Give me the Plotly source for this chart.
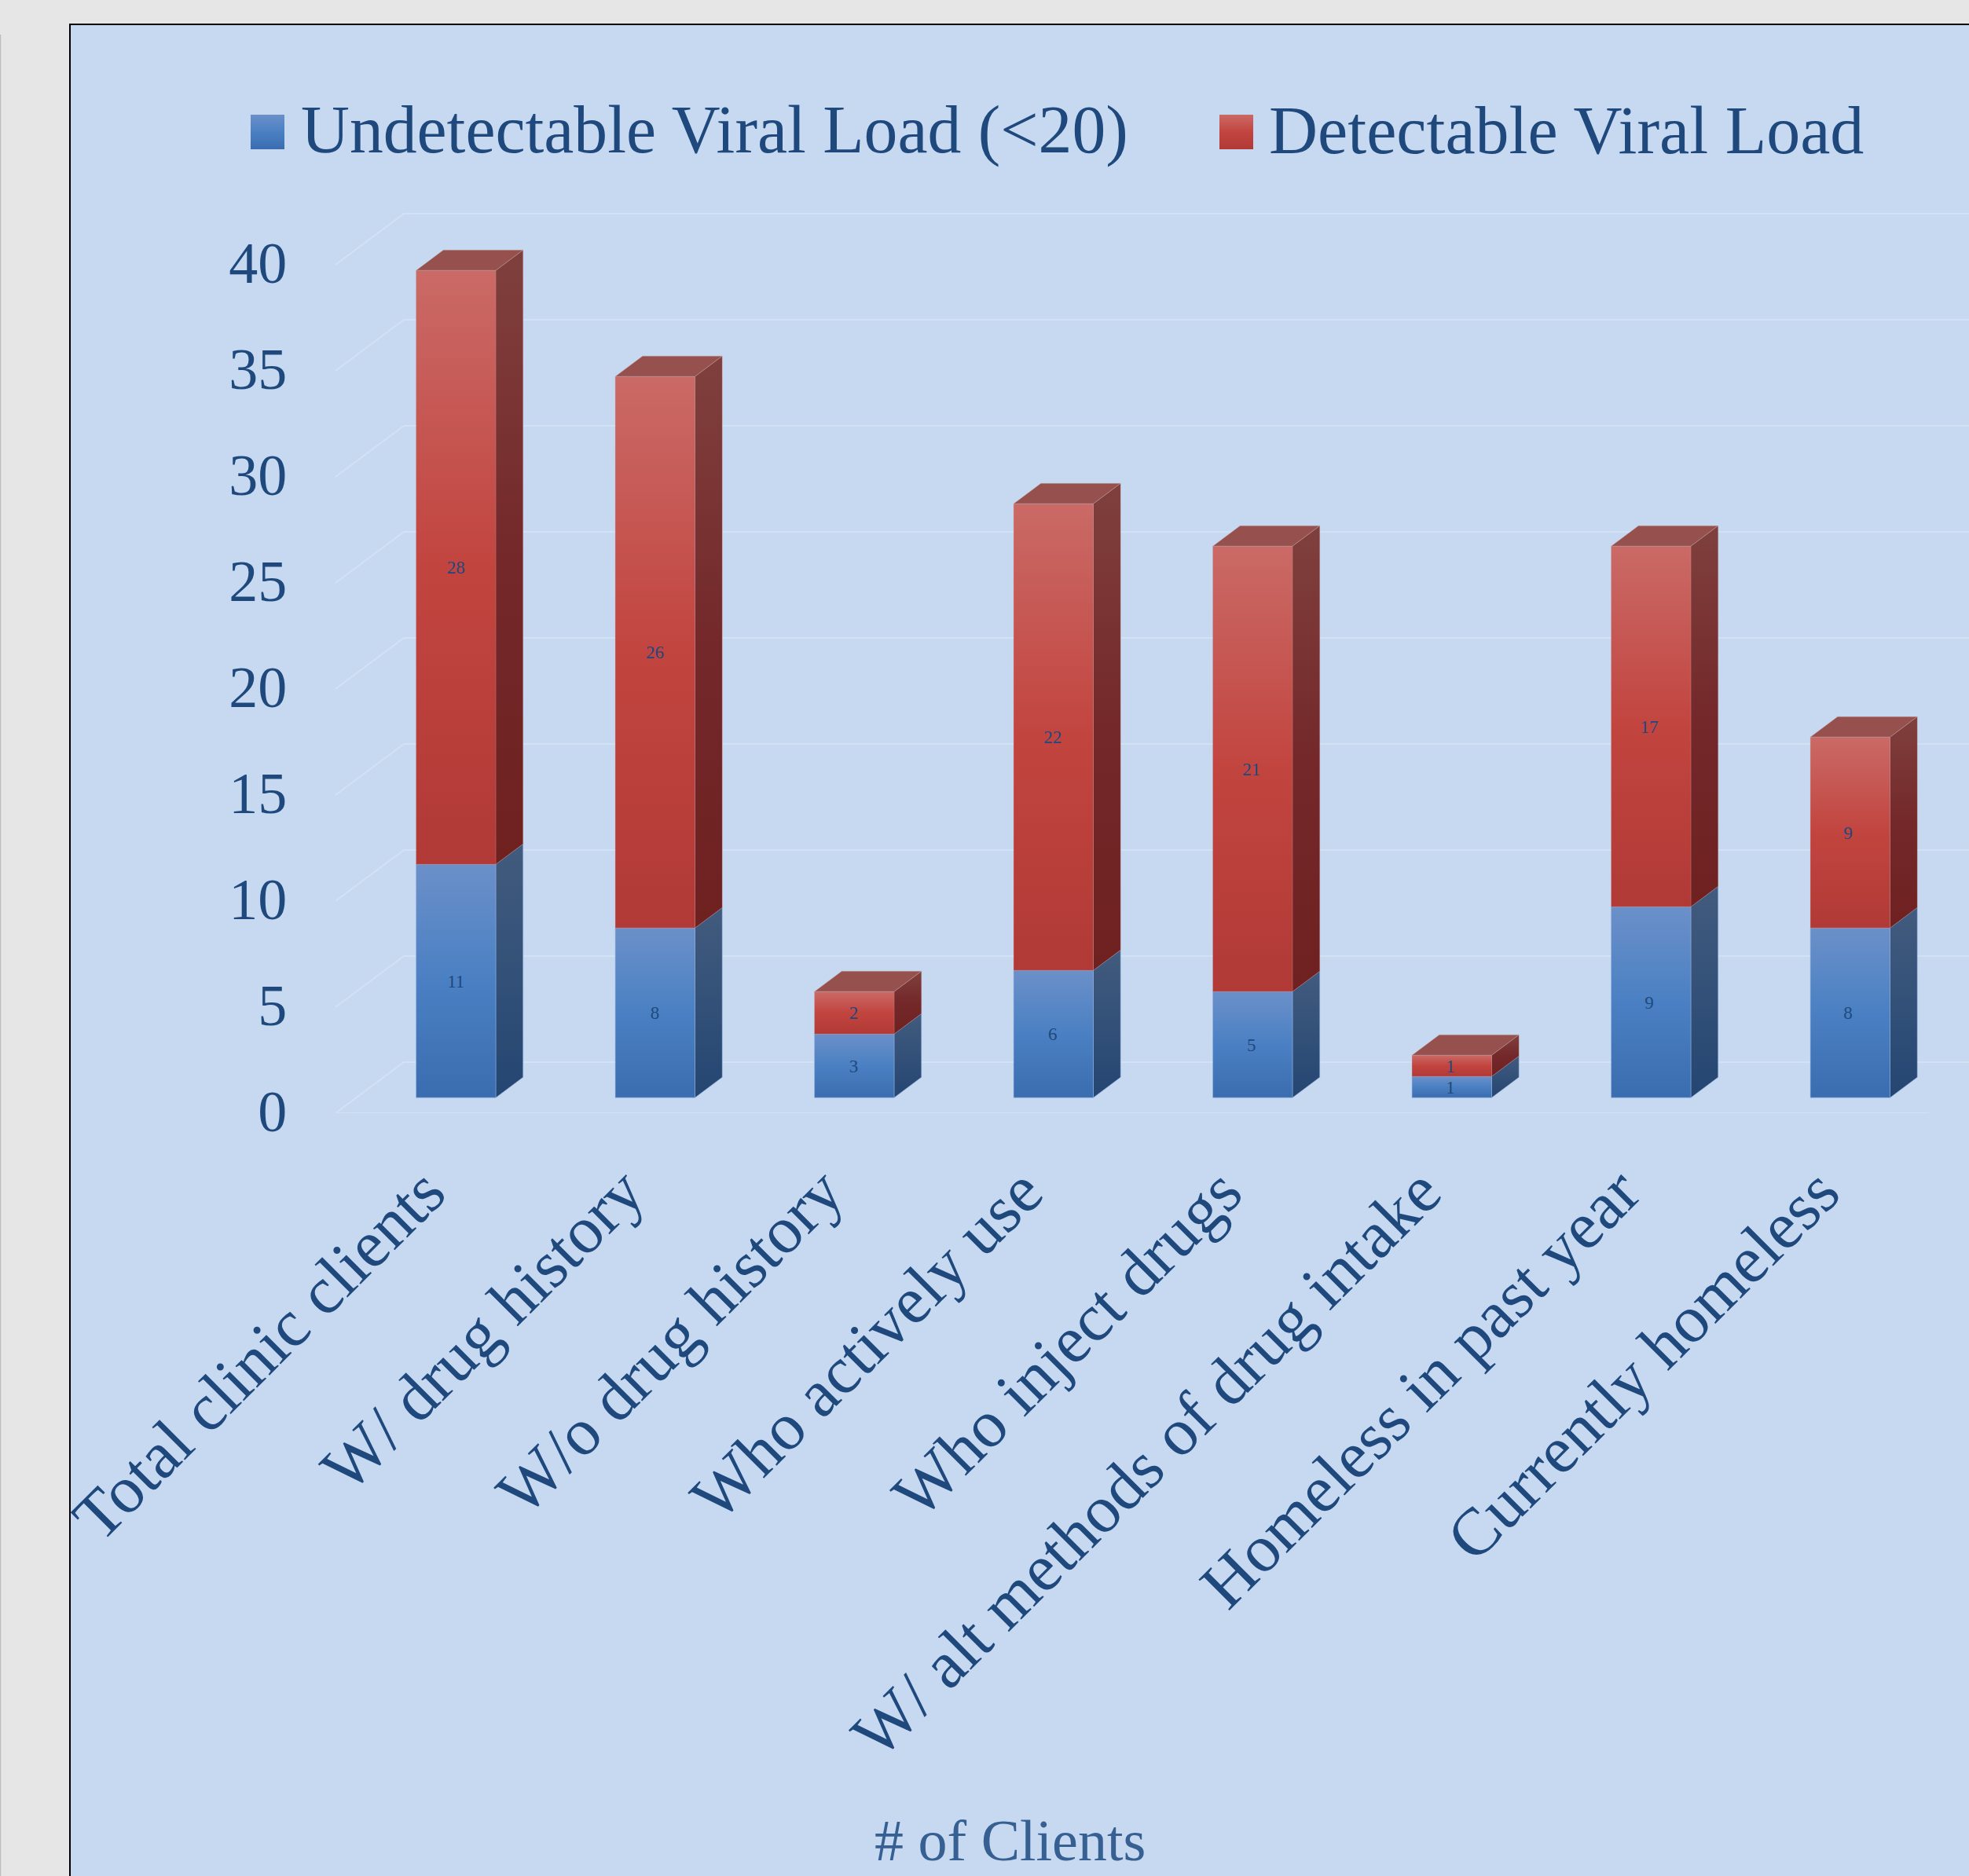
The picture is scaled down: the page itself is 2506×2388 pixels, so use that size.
import plotly.graph_objects as go

# Chart content
categories = ["Total clinic clients", "W/ drug history", "W/o drug history", "Who actively use",
              "Who inject drugs", "W/ alt methods of drug intake", "Homeless in past year", "Currently homeless"]
undetectable = [11, 8, 3, 6, 5, 1, 9, 8]
detectable = [28, 26, 2, 22, 21, 1, 17, 9]
value_ticks = [0, 5, 10, 15, 20, 25, 30, 35, 40]
series_names = ["Undetectable Viral Load (<20)", "Detectable Viral Load"]

W, H = 2506, 2388
SERIF = "Liberation Serif"
NAVY = "#1F497D"
PANEL = "#C6D9F1"
GRID = "#D3E1F4"

# Pseudo-3D projection: depth 0 is the front of the floor, depth 1 the back wall
PX_PER_CAT = 253.5
PX_PER_VAL = 27.0
LEFT, BASE = 427.0, 1417.0
WALL_DX = 87.0 / PX_PER_CAT
WALL_DV = 65.0 / PX_PER_VAL
BAR_FRONT, BAR_BACK = 0.305, 0.704
HALF = 0.2

# Nudges for the text that hangs off the axes
TICK_LABEL_LIFT = 0.1
CATEGORY_LABEL_SHIFT = 0.05
VALUE_LABEL_DROP = 0.08
VALUE_LABEL_DRIFT = 0.0015

x_max = -0.5 + (W - LEFT) / PX_PER_CAT
v_max = 43.0


def project(x, v, depth):
    return x + depth * WALL_DX, v + depth * WALL_DV


def polygon(corners, scale, edge):
    xs = [c[0] for c in corners] + [corners[0][0]]
    ys = [c[1] for c in corners] + [corners[0][1]]
    return go.Scatter(x=xs, y=ys, mode="lines", fill="toself",
                      line=dict(width=1, color=edge),
                      fillgradient=dict(type="vertical", colorscale=scale),
                      hoverinfo="skip", showlegend=False)


BLUE_FRONT = [[0, "#3A6DB0"], [0.5, "#4A80C3"], [1, "#6B90C9"]]
BLUE_SIDE = [[0, "#244672"], [1, "#425B7E"]]
RED_FRONT = [[0, "#B13A36"], [0.5, "#C2443F"], [1, "#CA6A66"]]
RED_SIDE = [[0, "#6F2120"], [0.5, "#74282A"], [1, "#7F403D"]]
TOP = [[0, "#96514E"], [1, "#96514E"]]

fig = go.Figure()

# Back wall and side wall grid
for v in value_ticks:
    p0 = project(-0.5, v, 0)
    p1 = project(-0.5, v, 1)
    p2 = (x_max, p1[1])
    fig.add_trace(go.Scatter(x=[p0[0], p1[0], p2[0]], y=[p0[1], p1[1], p2[1]], mode="lines",
                             line=dict(color=GRID, width=2), hoverinfo="skip", showlegend=False))
# Front edge of the floor
fig.add_trace(go.Scatter(x=[-0.5, 7.5], y=[0, 0], mode="lines",
                         line=dict(color=GRID, width=2), hoverinfo="skip", showlegend=False))

# Stacked columns: side, front and cap faces
label_x, low_mid, high_mid = [], [], []
for i, (low, high) in enumerate(zip(undetectable, detectable)):
    segments = [(0, low, BLUE_FRONT, BLUE_SIDE, "rgba(150,180,225,0.5)"),
                (low, low + high, RED_FRONT, RED_SIDE, "rgba(215,150,150,0.25)")]
    for v0, v1, front, side, edge in segments:
        fig.add_trace(polygon([project(i + HALF, v0, BAR_FRONT), project(i + HALF, v0, BAR_BACK),
                               project(i + HALF, v1, BAR_BACK), project(i + HALF, v1, BAR_FRONT)], side, edge))
        fig.add_trace(polygon([project(i - HALF, v0, BAR_FRONT), project(i + HALF, v0, BAR_FRONT),
                               project(i + HALF, v1, BAR_FRONT), project(i - HALF, v1, BAR_FRONT)], front, edge))
    total = low + high
    fig.add_trace(polygon([project(i - HALF, total, BAR_FRONT), project(i + HALF, total, BAR_FRONT),
                           project(i + HALF, total, BAR_BACK), project(i - HALF, total, BAR_BACK)],
                          TOP, "rgba(200,170,170,0.4)"))
    label_x.append(project(i, 0, BAR_FRONT)[0] - i * VALUE_LABEL_DRIFT)
    low_mid.append(project(i, low / 2, BAR_FRONT)[1] - VALUE_LABEL_DROP)
    high_mid.append(project(i, low + high / 2, BAR_FRONT)[1] - VALUE_LABEL_DROP)

# Value labels on the front faces
for ys, vals in ((low_mid, undetectable), (high_mid, detectable)):
    fig.add_trace(go.Scatter(x=label_x, y=ys, mode="text", text=[str(v) for v in vals],
                             textposition="middle center",
                             textfont=dict(family=SERIF, size=23, color=NAVY),
                             hoverinfo="skip", showlegend=False))

# Legend swatches sit on a page-sized helper axis pair
for x0, name in zip((319, 1552), series_names):
    scale = BLUE_FRONT if name == series_names[0] else RED_FRONT
    fig.add_trace(go.Scatter(x=[x0, x0 + 43, x0 + 43, x0, x0], y=[146, 146, 190, 190, 146],
                             xaxis="x2", yaxis="y2", mode="lines", fill="toself",
                             line=dict(width=0), fillgradient=dict(type="vertical", colorscale=scale),
                             hoverinfo="skip", showlegend=False))

annotations = [
    dict(text=series_names[0], x=381 / W, y=1 - 166 / H, xref="paper", yref="paper", xanchor="left", yanchor="middle",
         showarrow=False, font=dict(family=SERIF, size=85.7, color=NAVY)),
    dict(text=series_names[1], x=1613 / W, y=1 - 166 / H, xref="paper", yref="paper", xanchor="left", yanchor="middle",
         showarrow=False, font=dict(family=SERIF, size=86, color=NAVY)),
    dict(text="# of Clients", x=1285 / W, y=1 - 2343 / H, xref="paper", yref="paper", xanchor="center", yanchor="middle",
         showarrow=False, font=dict(family=SERIF, size=74, color="#376092")),
]

shapes = [
    dict(type="rect", xref="paper", yref="paper", x0=89 / W, x1=1.02, y0=-0.02, y1=1 - 31 / H,
         fillcolor=PANEL, line=dict(color="#000000", width=2), layer="below"),
    dict(type="line", xref="paper", yref="paper", x0=0.0002, x1=0.0002, y0=0, y1=1 - 44 / H,
         line=dict(color="#BDBDBD", width=1.5), layer="below"),
]

fig.update_layout(
    width=W, height=H, margin=dict(l=0, r=0, t=0, b=0), autosize=False,
    paper_bgcolor="#E6E6E6", plot_bgcolor="rgba(0,0,0,0)", showlegend=False,
    annotations=annotations, shapes=shapes,
    xaxis=dict(domain=[LEFT / W, 1], range=[-0.5, x_max], tickmode="array",
               tickvals=[i - CATEGORY_LABEL_SHIFT for i in range(8)],
               ticktext=categories, tickangle=-45, showgrid=False, zeroline=False, showline=False,
               ticks="outside", ticklen=15, tickcolor="rgba(0,0,0,0)",
               tickfont=dict(family=SERIF, size=85, color=NAVY), automargin=False),
    yaxis=dict(domain=[1 - BASE / H, 1 - (BASE - v_max * PX_PER_VAL) / H], range=[0, v_max],
               tickmode="array", tickvals=[v + TICK_LABEL_LIFT for v in value_ticks],
               ticktext=[str(v) for v in value_ticks], showgrid=False, zeroline=False, showline=False,
               ticks="outside", ticklen=46, tickcolor="rgba(0,0,0,0)",
               tickfont=dict(family=SERIF, size=74, color=NAVY), automargin=False),
    xaxis2=dict(domain=[0, 1], range=[0, W], visible=False, anchor="y2"),
    yaxis2=dict(domain=[0, 1], range=[H, 0], visible=False, anchor="x2"),
)

fig.write_html("out.html")
